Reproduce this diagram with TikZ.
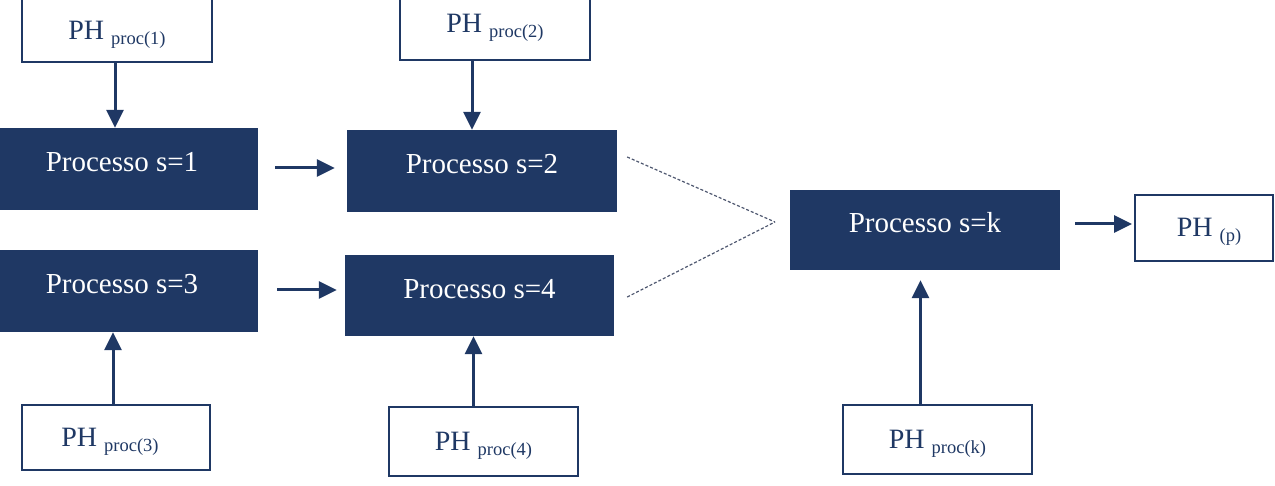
\documentclass[tikz,border=0pt]{standalone}
\usepackage{fontspec}
\setmainfont{Liberation Serif}
\usetikzlibrary{arrows.meta}
\definecolor{navy}{HTML}{1F3864}
\definecolor{dashgray}{HTML}{4F5870}
\newcommand{\phtxt}[1]{PH {\fontsize{18.5}{22}\selectfont\raisebox{-5pt}{#1}}}
\begin{document}
\begin{tikzpicture}[x=1pt,y=-1pt,
  procbox/.style={fill=navy, draw=none, text=white, inner sep=0pt,
    font=\fontsize{29}{34}\selectfont, text height=20pt, text depth=14pt},
  phbox/.style={fill=white, draw=navy, line width=1.8pt, text=navy, inner sep=0pt,
    font=\fontsize{28}{33}\selectfont, text height=27pt, text depth=9pt},
  arr/.style={draw=navy, line width=3pt, -{Triangle[length=18pt,width=17pt]}},
  dashline/.style={draw=dashgray, line width=1.2pt, dash pattern=on 3pt off 2pt}
]
\useasboundingbox (0,0) rectangle (1275,486);
% process boxes
\node[procbox, minimum width=258pt, minimum height=82pt] (s1) at (129,169) {Processo s=1\hspace*{14pt}};
\node[procbox, minimum width=270pt, minimum height=82pt] (s2) at (482,171) {Processo s=2};
\node[procbox, minimum width=258pt, minimum height=82pt] (s3) at (129,291) {Processo s=3\hspace*{14pt}};
\node[procbox, minimum width=269pt, minimum height=81pt] (s4) at (479.5,295.5) {Processo s=4};
\node[procbox, minimum width=270pt, minimum height=80pt] (sk) at (925,230) {Processo s=k};
% PH boxes
\node[phbox, minimum width=190pt, minimum height=67pt, text height=31pt] (ph1) at (117,28.5) {\phtxt{proc(1)}};
\node[phbox, minimum width=190pt, minimum height=65pt, text height=19pt] (ph2) at (495,27.5) {\phtxt{proc(2)}};
\node[phbox, minimum width=188pt, minimum height=65pt] (ph3) at (116,437.5) {\phtxt{proc(3)}\hspace*{12pt}};
\node[phbox, minimum width=189pt, minimum height=69pt] (ph4) at (483.5,441.5) {\phtxt{proc(4)}};
\node[phbox, minimum width=189pt, minimum height=69pt] (phk) at (937.5,439.5) {\phtxt{proc(k)}};
\node[phbox, minimum width=138pt, minimum height=66pt] (php) at (1204,228) {\hspace*{10pt}\phtxt{(p)}};
% arrows
\draw[arr] ([xshift=-2pt]ph1.south) -- ([xshift=-2pt]ph1.south |- s1.north);
\draw[arr] ([xshift=-23pt]ph2.south) -- ([xshift=-23pt]ph2.south |- s2.north);
\draw[arr] ([xshift=-3pt]ph3.north) -- ([xshift=-3pt]ph3.north |- s3.south);
\draw[arr] ([xshift=-10pt]ph4.north) -- ([xshift=-10pt]ph4.north |- s4.south);
\draw[arr, shorten >=10pt] ([xshift=-17pt]phk.north) -- ([xshift=-17pt]phk.north |- sk.south);
\draw[arr] ([xshift=17pt,yshift=1pt]s1.east) -- ([xshift=-12pt,yshift=1pt]s1.east -| s2.west);
\draw[arr] ([xshift=19pt,yshift=1pt]s3.east) -- ([xshift=-8pt,yshift=1pt]s3.east -| s4.west);
\draw[arr, shorten >=2pt] ([xshift=15pt,yshift=6pt]sk.east) -- ([yshift=6pt]sk.east -| php.west);
% dashed connectors
\coordinate (m) at (775,222);
\draw[dashline] ([xshift=10pt,yshift=14pt]s2.east) -- (m);
\draw[dashline] ([xshift=13pt,yshift=-1.5pt]s4.east) -- (m);
\end{tikzpicture}
\end{document}
